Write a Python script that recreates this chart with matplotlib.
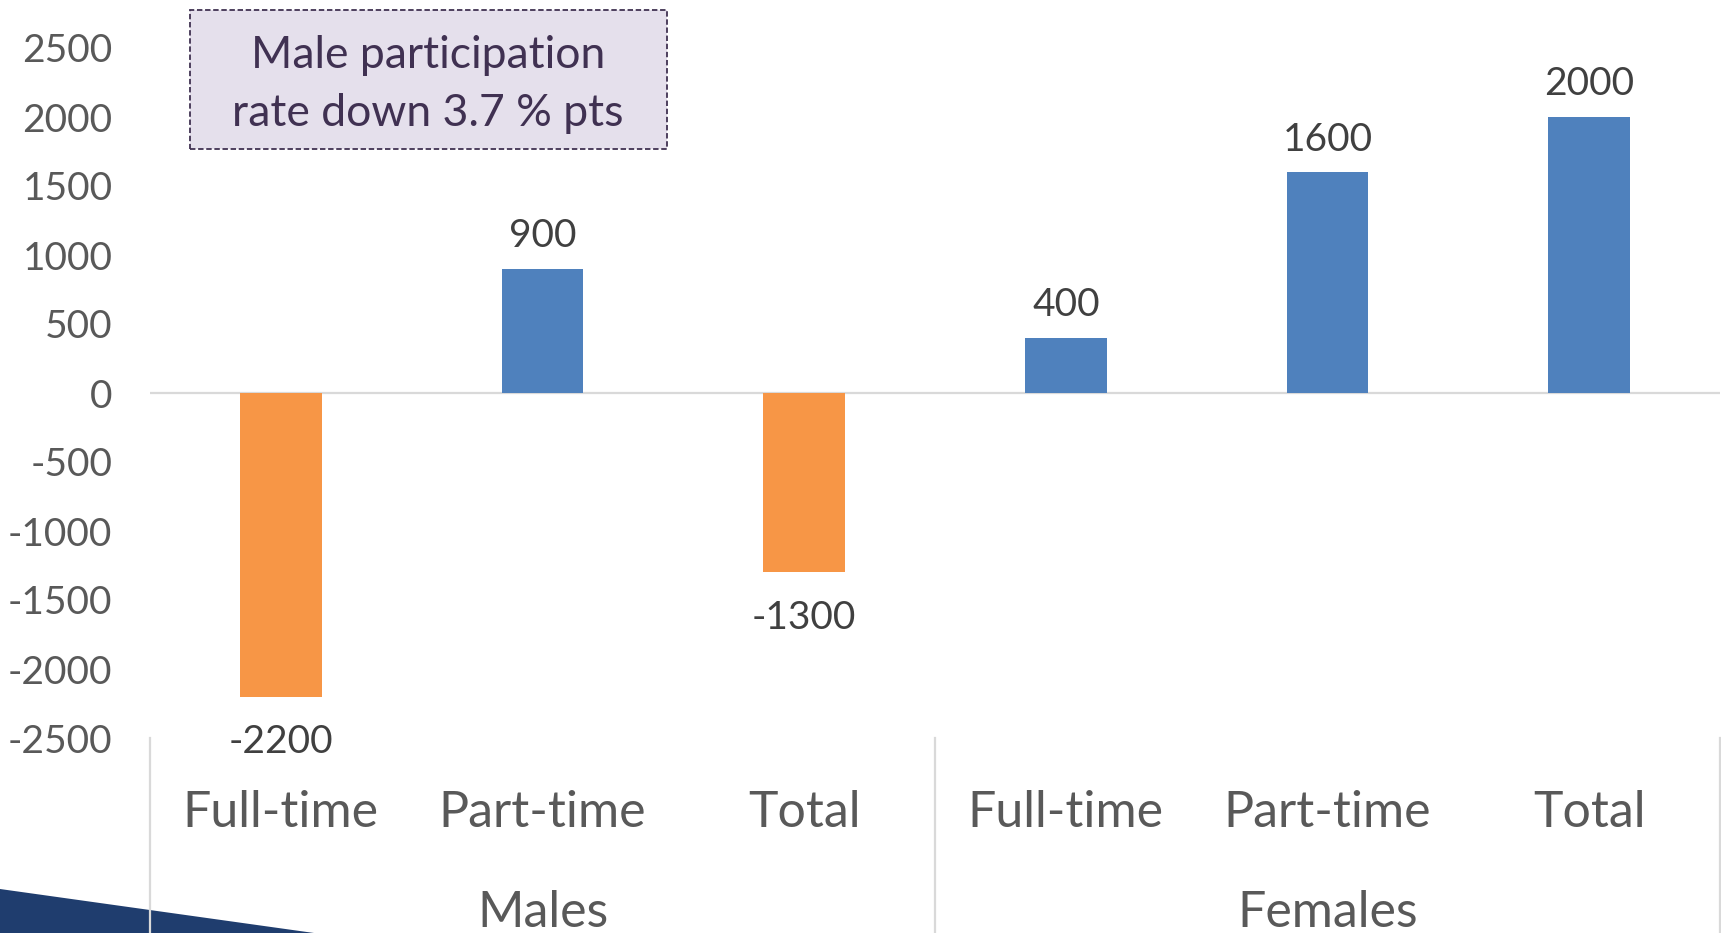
import numpy as np
from matplotlib import pyplot as plt
from matplotlib.patches import Polygon, Rectangle
from matplotlib.lines import Line2D

W, H = 1721, 933

categories = ["Full-time", "Part-time", "Total", "Full-time", "Part-time", "Total"]
groups = ["Males", "Females"]
values = [-2200, 900, -1300, 400, 1600, 2000]
y_ticks = list(range(-2500, 2501, 500))
note = "Male participation\nrate down 3.7 % pts"

BLUE = "#4F81BD"
ORANGE = "#F79646"
GRID = "#D9D9D9"
TXT = "#595959"

plt.rcParams['font.family'] = ['Lato', 'DejaVu Sans']
plt.rcParams['axes.unicode_minus'] = False

fig = plt.figure(figsize=(W / 100, H / 100), dpi=100)
ax = fig.add_axes([150 / W, (H - 738) / H, (1720 - 150) / W, (738 - 48) / H])
ax.set_facecolor("none")

x = np.arange(len(values))
colors = [BLUE if v >= 0 else ORANGE for v in values]
ax.bar(x, values, width=0.313, color=colors, zorder=2)
ax.axhline(0, color=GRID, lw=1.6, zorder=1)

ax.set_xlim(-0.5, len(values) - 0.5)
ax.set_ylim(-2500, 2500)
ax.set_yticks(y_ticks)
ax.tick_params(axis='y', length=0, pad=27, labelsize=28, labelcolor=TXT)
ax.set_xticks([])
for s in ax.spines.values():
    s.set_visible(False)

# value labels
for xi, v in zip(x, values):
    off = 23.5 if v >= 0 else -33
    ax.annotate(f"{v}", (xi, v), xytext=(0, off), textcoords="offset points",
                ha="center", va="center", fontsize=28, color="#404040")

# two-level category axis
tr = ax.get_xaxis_transform()
for xi, c in zip(x, categories):
    ax.text(xi, -0.108, c, transform=tr, ha="center", va="center",
            fontsize=36, color=TXT, clip_on=False)
for gi, g in enumerate(groups):
    ax.text(gi * 3 + 1, -0.254, g, transform=tr, ha="center", va="center",
            fontsize=36, color=TXT, clip_on=False)
for xd in [-0.5, 2.5, 5.5]:
    ax.add_line(Line2D([xd, xd], [0, -0.3], transform=tr, color=GRID,
                       lw=1.6, clip_on=False, zorder=3))

# annotation box
fig.patches.append(Rectangle((190 / W, (H - 149) / H), 477 / W, 139 / H,
                             transform=fig.transFigure, facecolor="#E5E0EC",
                             edgecolor="#403152", linestyle=(0, (3, 1.5)),
                             lw=1.3, zorder=2))
fig.text(428 / W, (H - 84.5) / H, note, ha="center", va="center", fontsize=32,
         color="#403152", linespacing=1.51, zorder=3)

# dark decoration bottom-left
fig.patches.append(Polygon([(0, 0), (0, 44 / H), (314 / W, 0)], closed=True,
                           transform=fig.transFigure, facecolor="#1F3D6E",
                           edgecolor="none", zorder=-1))

fig.savefig("out.png", dpi=100)
